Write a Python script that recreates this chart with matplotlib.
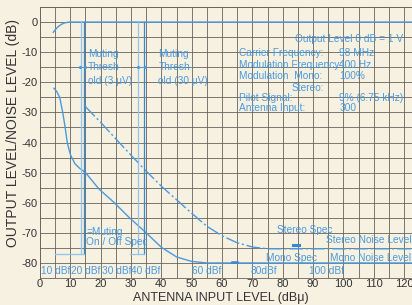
import numpy as np
import matplotlib.pyplot as plt

plt.rcParams['font.family'] = ['Liberation Sans', 'DejaVu Sans']

# lecturas del grafico (dBu de antena contra dB)
salida_x = [4.4, 5, 6, 7, 8, 9, 10, 125]
salida_y = [-3.4, -2.6, -1.5, -0.8, -0.3, -0.1, 0, 0]

mono_x = [4.6, 5.5, 6.5, 7.5, 8.3, 9.0, 10, 11.5, 13, 15, 19.5, 24.5, 29.5, 35, 40, 45, 50, 55, 125]
mono_y = [-22, -23, -25, -30, -35, -40, -44, -47, -48.5, -50, -55.5, -60, -65, -70, -74.8, -78, -79.5, -80, -80]

estereo_x = [14.9, 20, 25, 30, 35, 40, 45, 50, 55, 60, 65, 70, 75, 125]
estereo_y = [-28, -33.3, -38.8, -44.2, -49.5, -54.5, -59, -63.5, -67.8, -71, -73.3, -74.7, -75.3, -75.3]

# umbrales de muting (lineas verticales) y caja on/off
umbral_claro = [13.4, 32.4]
umbral_oscuro = [14.6, 34.3]
caja_izq = [5, 29.7]
caja_nivel = -77

dbf_x = [0.5, 10.3, 20.5, 30, 50, 69.5, 88.5]
dbf_txt = ['10 dBf', '20 dBf', '30 dBf', '40 dBf', '60 dBf', '80dBf', '100 dBf']

cond_nombres = ['Carrier Frequency:', 'Modulation Frequency:', 'Modulation  Mono:',
                'Pilot Signal:', 'Antenna Input:']
cond_valores = ['98 MHz', '400 Hz', '100%', '9% (6.75 kHz)', '300']
cond_y = [-10.4, -14.2, -17.9, -25.1, -28.5]

papel = '#f7f1e2'
azul = '#4a9ade'
azul_claro = '#8ec5ec'
azul_osc = '#3a88d0'
rejilla = '#67635c'

fig = plt.figure(figsize=(4.12, 3.05), dpi=100, facecolor=papel)
ax = fig.add_axes([0.097, 0.0885, 0.903, 0.8885], facecolor=papel)

ax.set_xlim(0, 122.6)
ax.set_ylim(-85, 5)
ax.set_xticks(np.arange(0, 121, 10))
ax.set_yticks(np.arange(-80, 1, 10))
ax.set_xticks(np.arange(0, 125, 5), minor=True)
ax.set_yticks(np.arange(-85, 6, 5), minor=True)
ax.grid(True, which='both', color=rejilla, lw=0.6)
ax.tick_params(which='both', length=0)
ax.tick_params(axis='both', labelsize=8, colors='#333333', pad=1.5)
ax.tick_params(axis='x', pad=0.5)
ax.set_yticklabels(['-80', '-70', '-60', '-50', '-40', '-30', '-20', '-10', '0'])
for s in ax.spines.values():
    s.set_color(rejilla)
    s.set_linewidth(0.6)

fig.text(0.536, 0.022, 'ANTENNA INPUT LEVEL (dB\u03bc)', fontsize=9, color='#333333',
         ha='center', va='center')
fig.text(0.032, 0.565, 'OUTPUT LEVEL/NOISE LEVEL (dB)', fontsize=10, color='#333333',
         ha='center', va='center', rotation=90)

# curvas
ax.plot(salida_x, salida_y, color=azul, lw=1.0)
ax.plot(mono_x, mono_y, color=azul, lw=1.0)
ax.plot(estereo_x, estereo_y, color=azul, lw=1.0, ls=(0, (10, 2, 1.5, 2)))

# umbrales
for xc, xo, xb in zip(umbral_claro, umbral_oscuro, caja_izq):
    ax.plot([xc, xc], [0, caja_nivel], color=azul_claro, lw=0.9)
    ax.plot([xo, xo], [0, caja_nivel], color=azul_osc, lw=0.9)
    ax.plot([xb, xo], [caja_nivel, caja_nivel], color=azul_claro, lw=0.9)
    ax.plot([xc - 0.2, xo + 0.3], [-15, -15], color=azul, lw=0.8, marker='.', ms=2.5)

# marcas de especificacion
ax.plot([83.5, 85.2], [-74.2, -74.2], color=azul_osc, lw=2.2)
ax.plot([63.4, 65.0], [-79.7, -79.7], color=azul_osc, lw=1.8)

fs = 7.3
ax.text(15.9, -10.7, 'Muting', color=azul, fontsize=fs, va='center')
ax.text(15.9, -15.0, 'Thresh-', color=azul, fontsize=fs, va='center')
ax.text(15.9, -19.6, 'old (3 \u03bcV)', color=azul, fontsize=fs, va='center')
ax.text(39.0, -10.7, 'Muting', color=azul, fontsize=fs, va='center')
ax.text(39.0, -15.0, 'Thresh-', color=azul, fontsize=fs, va='center')
ax.text(39.0, -19.6, 'old (30 \u03bcV)', color=azul, fontsize=fs, va='center')

ax.text(84, -5.7, 'Output Level 0 dB = 1 V', color=azul, fontsize=fs, va='center')
for nombre, valor, yy in zip(cond_nombres, cond_valores, cond_y):
    ax.text(65.7, yy, nombre, color=azul, fontsize=fs, va='center')
    ax.text(98.7, yy, valor, color=azul, fontsize=fs, va='center')
ax.text(82.8, -21.8, 'Stereo:', color=azul, fontsize=fs, va='center')

ax.text(15.3, -69.7, '=Muting', color=azul, fontsize=fs, va='center')
ax.text(15.2, -73.0, 'On / Off Spec', color=azul, fontsize=fs, va='center')

ax.text(78.2, -69.0, 'Stereo Spec', color=azul, fontsize=fs, va='center')
ax.text(94.4, -72.3, 'Stereo Noise Level', color=azul, fontsize=fs, va='center')
ax.text(74.6, -78.3, 'Mono Spec', color=azul, fontsize=fs, va='center')
ax.text(95.7, -78.3, 'Mono Noise Level', color=azul, fontsize=fs, va='center')

for xx, tt in zip(dbf_x, dbf_txt):
    ax.text(xx, -82.7, tt, color=azul, fontsize=fs, va='center')

fig.savefig('out.png', dpi=100, facecolor=papel)
